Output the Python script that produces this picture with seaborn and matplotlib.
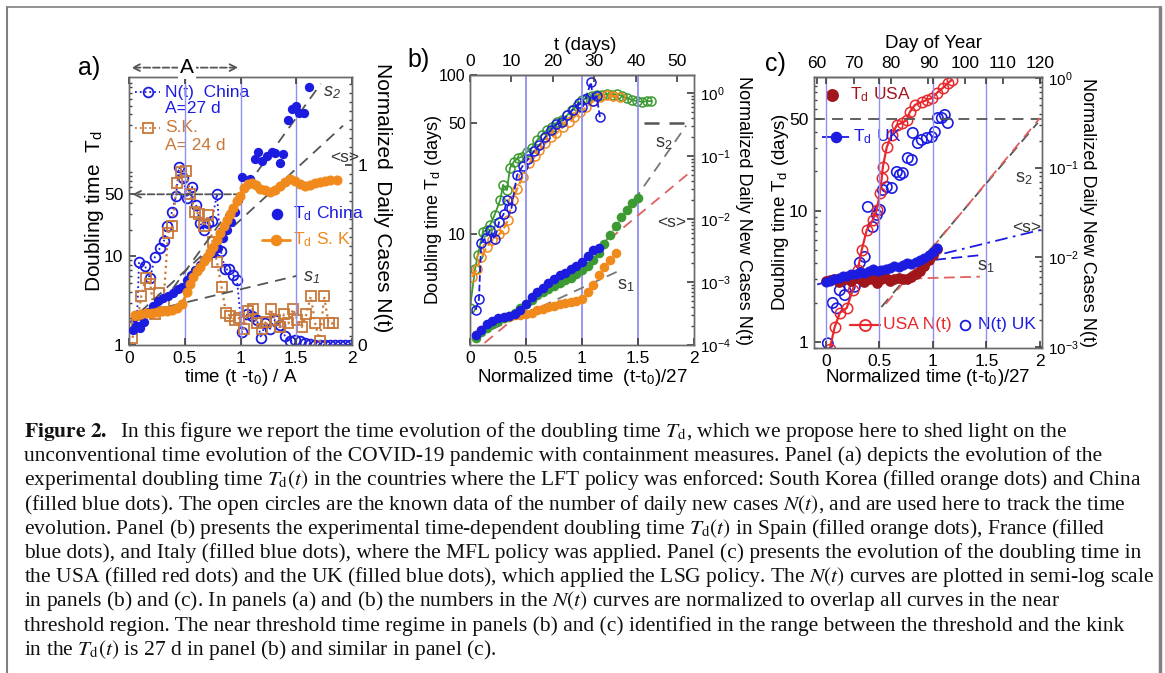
"""
Doubling time T_d of COVID-19 under three containment policies (panels a-c)
with the journal caption underneath.
"""

import math

import matplotlib
matplotlib.use("Agg")
import matplotlib.pyplot as plt
import matplotlib.ticker as mticker
import matplotlib.transforms as mtransforms
from matplotlib.lines import Line2D
import seaborn as sns

# ── Data: panel (a) LFT policy, China / South Korea ───────────────────
A_CHN_TD_T = [0.036, 0.063, 0.099, 0.135, 0.170, 0.215, 0.260, 0.305, 0.350, 0.395,
              0.439, 0.475, 0.520, 0.556, 0.592, 0.637, 0.673, 0.709, 0.753, 0.798,
              0.843, 0.879, 0.915, 0.951, 0.978, 1.013, 1.085, 1.130, 1.157, 1.193,
              1.238, 1.283, 1.309, 1.354, 1.381, 1.426, 1.462, 1.498, 1.525, 1.570, 1.614]
A_CHN_TD = [1.47, 1.63, 1.55, 1.81, 2.35, 2.74, 3.12, 3.37, 3.55, 3.84,
            4.26, 4.48, 5.38, 6.12, 6.96, 7.92, 9.02, 10.0, 10.8, 12.3,
            15.9, 19.6, 24.1, 31.2, 42.6, 79.2, 75.2, 126, 151, 120,
            136, 151, 147, 114, 144, 346, 460, 497, 415, 415, 813]

A_SK_TD_T = [0.054, 0.108, 0.161, 0.206, 0.251, 0.296, 0.341, 0.386, 0.430, 0.475,
             0.520, 0.547, 0.574, 0.610, 0.637, 0.673, 0.700, 0.726, 0.753, 0.789,
             0.816, 0.852, 0.879, 0.906, 0.933, 0.969, 0.996, 1.031, 1.067, 1.103,
             1.139, 1.175, 1.220, 1.265, 1.309, 1.354, 1.399, 1.444, 1.489, 1.534,
             1.578, 1.623, 1.668, 1.713, 1.758, 1.803, 1.865]
A_SK_TD = [2.17, 2.23, 2.29, 2.29, 2.35, 2.41, 2.41, 2.47, 2.60, 2.89,
           3.94, 4.85, 5.81, 6.78, 7.52, 8.79, 9.75, 11.1, 12.6, 15.1,
           18.1, 21.7, 25.4, 29.6, 34.6, 41.5, 48.4, 59.6, 66.1, 67.8,
           64.4, 58.1, 55.2, 52.4, 56.6, 62.8, 69.6, 75.2, 71.4, 66.1,
           62.8, 64.4, 67.8, 69.6, 71.4, 73.3, 73.3]

A_CHN_NT_T = [0.036, 0.072, 0.090, 0.143, 0.188, 0.233, 0.278, 0.314, 0.341, 0.386,
              0.422, 0.448, 0.484, 0.520, 0.565, 0.601, 0.637, 0.673, 0.709, 0.744,
              0.789, 0.825, 0.861, 0.897, 0.933, 0.969, 1.013, 1.058, 1.103, 1.148,
              1.184, 1.220, 1.265, 1.309, 1.354, 1.399, 1.444, 1.489, 1.534, 1.578,
              1.623, 1.670, 1.715, 1.760, 1.805, 1.850, 1.895, 1.940, 1.980]
A_CHN_NT = [0.11, 0.15, 0.46, 0.44, 0.37, 0.49, 0.54, 0.58, 0.66, 0.74,
            0.83, 0.99, 0.93, 0.82, 0.88, 0.78, 0.68, 0.64, 0.68, 0.69,
            0.84, 0.52, 0.42, 0.42, 0.39, 0.36, 0.07, 0.17, 0.16, 0.14,
            0.04, 0.12, 0.09, 0.14, 0.11, 0.05, 0.02, 0.03, 0.02, 0.01,
            0.005, 0.0, 0.0, 0.0, 0.0, 0.0, 0.0, 0.0, 0.0]

A_SK_NT_T = [0.03, 0.07, 0.11, 0.15, 0.19, 0.23, 0.27, 0.31, 0.35, 0.39,
             0.43, 0.47, 0.51, 0.55, 0.59, 0.63, 0.67, 0.71, 0.75, 0.79,
             0.83, 0.87, 0.91, 0.95, 0.99, 1.03, 1.07, 1.11, 1.15, 1.19,
             1.23, 1.27, 1.31, 1.35, 1.39, 1.43, 1.47, 1.51, 1.55, 1.59,
             1.63, 1.67, 1.71, 1.75, 1.79, 1.83]
A_SK_NT = [0.04, 0.11, 0.27, 0.37, 0.34, 0.17, 0.29, 0.24, 0.62, 0.66,
           0.90, 0.96, 0.97, 0.84, 0.74, 0.73, 0.66, 0.72, 0.57, 0.46,
           0.32, 0.18, 0.16, 0.14, 0.15, 0.09, 0.19, 0.20, 0.12, 0.09,
           0.13, 0.20, 0.14, 0.10, 0.17, 0.12, 0.20, 0.14, 0.10, 0.17,
           0.27, 0.12, 0.02, 0.27, 0.12, 0.12]

# guide lines (t, T_d) end points
A_S1 = ([0.05, 1.50], [2.2, 6.0])
A_SMEAN = ([0.10, 1.92], [2.35, 297])
A_S2 = ([0.20, 1.72], [2.0, 880])

# ── Data: panel (b) MFL policy, Spain / France / Italy ────────────────
B_ESP_TD_T = [0.05, 0.10, 0.15, 0.20, 0.25, 0.30, 0.35, 0.40, 0.45, 0.50, 0.55, 0.60, 0.65,
              0.70, 0.75, 0.80, 0.85, 0.90, 0.95, 1.00, 1.05, 1.10, 1.15, 1.20, 1.25, 1.30]
B_ESP_TD = [2.3, 2.5, 2.65, 2.8, 2.9, 2.95, 3.0, 3.1, 3.1, 3.15, 3.2, 3.3, 3.35,
            3.45, 3.5, 3.6, 3.65, 3.75, 3.8, 3.9, 4.3, 4.8, 5.5, 6.2, 6.9, 7.6]
B_FRA_TD_T = [0.05, 0.10, 0.15, 0.20, 0.25, 0.30, 0.35, 0.40, 0.45, 0.50, 0.55, 0.60,
              0.65, 0.70, 0.75, 0.80, 0.85, 0.90, 0.95, 1.00, 1.05, 1.10, 1.15]
B_FRA_TD = [2.3, 2.5, 2.7, 2.85, 2.95, 3.0, 3.05, 3.15, 3.3, 3.6, 4.0, 4.3,
            4.6, 4.9, 5.2, 5.5, 5.7, 6.0, 6.3, 6.7, 7.3, 7.9, 8.2]
B_ITA_TD_T = [0.05, 0.10, 0.15, 0.20, 0.25, 0.30, 0.35, 0.40, 0.45, 0.50, 0.55, 0.60,
              0.65, 0.70, 0.75, 0.80, 0.85, 0.90, 0.95, 1.00, 1.05, 1.10, 1.15, 1.20,
              1.25, 1.30, 1.35, 1.40, 1.45, 1.50]
B_ITA_TD = [2.2, 2.4, 2.55, 2.7, 2.85, 2.95, 3.05, 3.2, 3.4, 3.6, 3.85, 4.1,
            4.3, 4.5, 4.7, 4.9, 5.1, 5.3, 5.6, 5.9, 6.3, 6.9, 7.6, 8.6,
            9.8, 11.2, 12.7, 14.2, 15.6, 16.8]

B_ITA_NT_T = [0.0, 0.045, 0.07, 0.116, 0.15, 0.18, 0.22, 0.27, 0.295, 0.33,
              0.357, 0.39, 0.43, 0.46, 0.51, 0.55, 0.6, 0.64, 0.69, 0.73,
              0.78, 0.82, 0.87, 0.91, 0.955, 1.0, 1.045, 1.09, 1.13, 1.18,
              1.22, 1.27, 1.31, 1.36, 1.4, 1.45, 1.49, 1.54, 1.58, 1.62]
B_ITA_NT = [3.9e-4, 1.6e-3, 2.7e-3, 6.3e-3, 6.7e-3, 8.1e-3, 0.0117, 0.0202, 0.035, 0.029,
            0.065, 0.081, 0.094, 0.097, 0.117, 0.135, 0.18, 0.218, 0.262, 0.291,
            0.35, 0.377, 0.452, 0.544, 0.62, 0.78, 0.84, 0.9, 0.94, 0.94,
            0.97, 0.94, 0.97, 0.9, 0.84, 0.78, 0.75, 0.73, 0.75, 0.75]
B_FRA_NT_T = [0.05, 0.08, 0.1, 0.14, 0.18, 0.22, 0.26, 0.3, 0.33, 0.37,
              0.42, 0.47, 0.52, 0.57, 0.62, 0.67, 0.72, 0.77, 0.82, 0.87,
              0.92, 0.97, 1.0, 1.03, 1.08, 1.1, 1.13, 1.16]
B_FRA_NT = [3.6e-4, 5.3e-4, 4.2e-3, 5.0e-3, 6.7e-3, 4.8e-3, 0.009, 0.012, 0.02, 0.015,
            0.05, 0.07, 0.09, 0.12, 0.15, 0.2, 0.26, 0.32, 0.35, 0.45,
            0.55, 0.7, 0.6, 0.8, 1.5, 0.75, 0.9, 0.42]
B_ESP_NT_T = [0.02, 0.06, 0.1, 0.15, 0.2, 0.26, 0.3, 0.34, 0.38, 0.42,
              0.47, 0.53, 0.58, 0.62, 0.67, 0.72, 0.77, 0.83, 0.88, 0.93,
              0.98, 1.04, 1.1, 1.16, 1.22, 1.28, 1.34]
B_ESP_NT = [1.2e-3, 1.6e-3, 2.5e-3, 3.6e-3, 4.7e-3, 5.7e-3, 7e-3, 9.7e-3, 0.02, 0.03,
            0.047, 0.078, 0.1, 0.125, 0.16, 0.2, 0.23, 0.29, 0.35, 0.42,
            0.5, 0.6, 0.75, 0.87, 0.94, 0.9, 0.87]

B_S1 = ([0.05, 1.34], [2.25, 5.9])
B_SMEAN = ([0.13, 1.99], [2.06, 25.3])
B_S2 = ([1.00, 1.93], [5.5, 48])
B_LEVEL = ([1.55, 2.0], [50, 50])

# ── Data: panel (c) LSG policy, USA / UK ──────────────────────────────
C_TD_T = [0.0, 0.04, 0.08, 0.12, 0.16, 0.2, 0.24, 0.28, 0.32, 0.36, 0.4, 0.44, 0.48, 0.52,
          0.56, 0.6, 0.64, 0.68, 0.72, 0.76, 0.8, 0.84, 0.88, 0.92, 0.96, 1.0, 1.04]
C_USA_TD = [2.9, 2.95, 3.0, 2.85, 3.05, 3.0, 2.9, 3.1, 3.0, 2.85, 3.05, 3.0, 2.8, 3.0,
            3.1, 2.9, 3.05, 3.1, 3.0, 3.05, 3.15, 3.3, 3.5, 3.8, 4.2, 4.6, 5.1]
C_UK_TD = [2.85, 2.9, 3.0, 3.1, 3.2, 3.2, 3.3, 3.3, 3.4, 3.35, 3.5, 3.6, 3.45, 3.55,
           3.6, 3.7, 3.8, 3.75, 3.9, 4.0, 3.95, 4.1, 4.2, 4.4, 4.6, 4.9, 5.2]

C_USA_NT_T = [0.037, 0.084, 0.131, 0.196, 0.252, 0.299, 0.336, 0.383, 0.439, 0.477,
              0.505, 0.523, 0.533, 0.570, 0.617, 0.664, 0.710, 0.757, 0.785, 0.832,
              0.897, 0.944, 0.991, 1.037, 1.093, 1.140, 1.178]
C_USA_NT = [9.5e-4, 0.00168, 0.0024, 0.00273, 0.00433, 0.00724, 0.0121, 0.0202, 0.0261, 0.0338,
            0.0522, 0.0768, 0.102, 0.170, 0.232, 0.299, 0.315, 0.340, 0.418, 0.500,
            0.540, 0.569, 0.598, 0.681, 0.774, 0.880, 0.95]
C_UK_NT_T = [0.019, 0.065, 0.103, 0.131, 0.178, 0.224, 0.271, 0.318, 0.364, 0.393,
             0.439, 0.477, 0.505, 0.533, 0.570, 0.617, 0.664, 0.692, 0.720, 0.766,
             0.804, 0.813, 0.860, 0.897, 0.944, 0.991, 1.019, 1.047, 1.084, 1.112, 1.140]
C_UK_NT = [1.1e-3, 0.0031, 0.0027, 0.0043, 0.0038, 0.0047, 0.0047, 0.0087, 0.0101, 0.0365,
           0.0218, 0.0297, 0.0338, 0.0564, 0.0609, 0.0593, 0.0896, 0.083, 0.087, 0.128,
           0.122, 0.244, 0.188, 0.204, 0.214, 0.22, 0.25, 0.358, 0.358, 0.387, 0.315]

C_S2_BLACK = ([0.52, 1.98], [1.85, 47])
C_S2_RED = ([0.56, 2.00], [1.95, 51])
C_SMEAN = ([-0.08, 2.02], [2.75, 7.2])
C_S1_BLUE = ([0.72, 1.45], [4.0, 4.6])
C_S1_RED = ([0.80, 1.44], [3.05, 3.15])
C_LEVEL = ([-0.11, 2.02], [50, 50])

CAPTION = [
    r"$\mathbf{Figure\ 2.}$  In this figure we report the time evolution of the doubling time $T_\mathrm{d}$, which we propose here to shed light on the",
    "unconventional time evolution of the COVID-19 pandemic with containment measures. Panel (a) depicts the evolution of the",
    r"experimental doubling time $T_\mathrm{d}(t)$ in the countries where the LFT policy was enforced: South Korea (filled orange dots) and China",
    r"(filled blue dots). The open circles are the known data of the number of daily new cases $N(t)$, and are used here to track the time",
    r"evolution. Panel (b) presents the experimental time-dependent doubling time $T_\mathrm{d}(t)$ in Spain (filled orange dots), France (filled",
    "blue dots), and Italy (filled blue dots), where the MFL policy was applied. Panel (c) presents the evolution of the doubling time in",
    r"the USA (filled red dots) and the UK (filled blue dots), which applied the LSG policy. The $N(t)$ curves are plotted in semi-log scale",
    r"in panels (b) and (c). In panels (a) and (b) the numbers in the $N(t)$ curves are normalized to overlap all curves in the near",
    "threshold region. The near threshold time regime in panels (b) and (c) identified in the range between the threshold and the kink",
    r"in the $T_\mathrm{d}(t)$ is 27 d in panel (b) and similar in panel (c).",
]

# ── Theme ─────────────────────────────────────────────────────────────
W, H = 1165, 673
BLUE = "#1c1ce0"
ORANGE = "#f08a1c"
SK_BROWN = "#c8783a"
GREEN = "#3c9a32"
RED = "#e8282c"
DARK_RED = "#a0161a"
VLINE = "#9090f2"
GUIDE = "#555555"
GUIDE_RED = "#e06060"
TEXT = "#000000"
TICK_FS = 12.5
RTICK_FS = 11
LABEL_FS = 13.5
LEG_FS = 12.5

sns.set_theme(style="ticks")
plt.rcParams.update({
    "font.family": ["Liberation Sans", "DejaVu Sans"],
    "mathtext.fontset": "stix",
    "axes.edgecolor": "#6a6a6a",
    "axes.linewidth": 1.0,
    "text.color": TEXT,
    "xtick.color": "#444444",
    "ytick.color": "#444444",
    "xtick.labelcolor": TEXT,
    "ytick.labelcolor": TEXT,
})


def px_rect(left, top, right, bottom):
    """Axes rectangle in figure fraction from pixel edges."""
    return [left / W, 1 - bottom / H, (right - left) / W, (bottom - top) / H]


def style_ticks(ax, size=TICK_FS, **kw):
    ax.tick_params(which="both", direction="in", labelsize=size, pad=4, **kw)
    ax.tick_params(which="major", length=5)
    ax.tick_params(which="minor", length=2.5)


def pow10(v, _):
    return r"10$^{\mathregular{%d}}$" % int(round(math.log10(v)))


def legend_key(ax, x0, x1, y, color, text, tx, ls="-", lw=1.3, marker="o", ms=7, mfc=None):
    if ls != "none":
        ax.add_line(Line2D([x0, x1], [y, y], transform=ax.transAxes, color=color,
                           ls=ls, lw=lw, clip_on=False))
    ax.add_line(Line2D([(x0 + x1) / 2], [y], transform=ax.transAxes, ls="none", marker=marker,
                       ms=ms, mfc=mfc or color, mec=color, mew=1.3, clip_on=False))
    ax.text(tx, y, text, transform=ax.transAxes, color=color, ha="left", va="center",
            fontsize=LEG_FS)


def guide(ax, line, color=GUIDE, ls=(0, (6, 4)), lw=1.3):
    ax.plot(line[0], line[1], color=color, ls=ls, lw=lw, zorder=3)


fig = plt.figure(figsize=(W / 100, H / 100), dpi=100)
fig.patch.set_facecolor("white")

# ── Panel (a) ─────────────────────────────────────────────────────────
ax_a = fig.add_axes(px_rect(129, 77, 352, 345))
ax_a2 = ax_a.twinx()
ax_a.set_zorder(ax_a2.get_zorder() + 1)
ax_a.patch.set_visible(False)

ax_a.set_yscale("log")
ax_a.set_xlim(0, 2)
ax_a.set_ylim(1, 1050)
ax_a2.set_ylim(0, 1.49)
for v in (0.5, 1.0, 1.5):
    ax_a.axvline(v, color=VLINE, lw=1.0, zorder=0)

sns.lineplot(x=A_CHN_NT_T, y=A_CHN_NT, ax=ax_a2, color=BLUE, linestyle=":", linewidth=1.3,
             marker="o", markersize=7, markerfacecolor="none", markeredgecolor=BLUE,
             markeredgewidth=1.3, legend=False)
sns.lineplot(x=A_SK_NT_T, y=A_SK_NT, ax=ax_a2, color=SK_BROWN, linestyle=":", linewidth=1.6,
             marker="s", markersize=7, markerfacecolor="none", markeredgecolor=SK_BROWN,
             markeredgewidth=1.3, legend=False)

guide(ax_a, A_S1)
guide(ax_a, A_SMEAN)
guide(ax_a, A_S2)
sns.scatterplot(x=A_CHN_TD_T, y=A_CHN_TD, ax=ax_a, color=BLUE, s=45, linewidth=0, zorder=4)
sns.lineplot(x=A_SK_TD_T, y=A_SK_TD, ax=ax_a, color=ORANGE, linewidth=2.0, marker="o",
             markersize=6.5, markeredgecolor=ORANGE, legend=False, zorder=5)

ax_a.annotate("", xy=(0.03, 50), xytext=(1.0, 50),
              arrowprops=dict(arrowstyle="->", color=GUIDE, lw=1.3, linestyle="--",
                              shrinkA=0, shrinkB=0))
blend_a = mtransforms.blended_transform_factory(ax_a.transData, ax_a.transAxes)
ax_a.annotate("", xy=(0.02, 1.035), xytext=(0.98, 1.035), xycoords=blend_a, textcoords=blend_a,
              arrowprops=dict(arrowstyle="<->", color=GUIDE, lw=1.3, linestyle="--",
                              shrinkA=0, shrinkB=0), annotation_clip=False)
ax_a.text(0.52, 1.035, "A", transform=blend_a, ha="center", va="center", fontsize=15,
          bbox=dict(fc="white", ec="none", pad=1.5))

ax_a.set_yticks([1, 10, 50], labels=["1", "10", "50"])
ax_a.yaxis.set_minor_locator(mticker.LogLocator(base=10, subs=range(2, 10), numticks=20))
ax_a.yaxis.set_minor_formatter(mticker.NullFormatter())
ax_a.set_xticks([0, 0.5, 1, 1.5, 2], labels=["0", "0.5", "1", "1.5", "2"])
ax_a2.set_yticks([0, 1], labels=["0", "1"])
ax_a2.yaxis.set_minor_locator(mticker.MultipleLocator(0.05))
style_ticks(ax_a, top=True, right=False)
style_ticks(ax_a2)

ax_a.text(-0.155, 0.5, "Doubling time  T$_\\mathregular{d}$", transform=ax_a.transAxes,
          rotation=90, ha="center", va="center", fontsize=15)
ax_a.text(1.135, 0.55, "Normalized  Daily Cases N(t)", transform=ax_a.transAxes,
          rotation=270, ha="center", va="center", fontsize=15)
ax_a.text(0.5, -0.12, "time (t -t$_\\mathregular{0}$) / A", transform=ax_a.transAxes,
          ha="center", va="center", fontsize=LABEL_FS)

legend_key(ax_a2, 0.027, 0.139, 0.944, BLUE, "N(t)  China", 0.161, ls=":", mfc="none")
ax_a2.text(0.161, 0.884, "A=27 d", transform=ax_a2.transAxes, color=BLUE, va="center",
           fontsize=LEG_FS)
legend_key(ax_a2, 0.027, 0.139, 0.810, SK_BROWN, "S.K.", 0.161, ls=":", marker="s", mfc="none")
ax_a2.text(0.161, 0.746, "A= 24 d", transform=ax_a2.transAxes, color=SK_BROWN, va="center",
           fontsize=LEG_FS)
legend_key(ax_a2, 0.664, 0.664, 0.489, BLUE, "T$_\\mathregular{d}$ China", 0.735, ls="none")
legend_key(ax_a2, 0.596, 0.722, 0.392, ORANGE, "T$_\\mathregular{d}$ S. K.", 0.735, lw=2.0)

ax_a.text(0.870, 0.944, "s$_\\mathregular{2}$", transform=ax_a.transAxes, fontsize=13,
          style="italic", color="#333333", va="center")
ax_a.text(0.900, 0.698, "<s>", transform=ax_a.transAxes, fontsize=12.5, color="#333333",
          va="center")
ax_a.text(0.780, 0.250, "s$_\\mathregular{1}$", transform=ax_a.transAxes, fontsize=13,
          style="italic", color="#333333", va="center")

# ── Panel (b) ─────────────────────────────────────────────────────────
ax_b = fig.add_axes(px_rect(470, 75, 694, 345))
ax_b2 = ax_b.twinx()
ax_b.set_zorder(ax_b2.get_zorder() + 1)
ax_b.patch.set_visible(False)

ax_b.set_yscale("log")
ax_b2.set_yscale("log")
ax_b.set_xlim(0, 2)
ax_b.set_ylim(2.0, 100)
ax_b2.set_ylim(1e-4, 1.95)
for v in (0.5, 1.0, 1.5):
    ax_b.axvline(v, color=VLINE, lw=1.3, zorder=0)

sns.lineplot(x=B_ITA_NT_T, y=B_ITA_NT, ax=ax_b2, color=GREEN, linewidth=1.3, marker="o",
             markersize=6.5, markerfacecolor="none", markeredgecolor=GREEN,
             markeredgewidth=1.1, legend=False)
sns.lineplot(x=B_ESP_NT_T, y=B_ESP_NT, ax=ax_b2, color=ORANGE, linestyle="--", linewidth=1.6,
             marker="o", markersize=6.5, markerfacecolor="none", markeredgecolor=ORANGE,
             markeredgewidth=1.1, legend=False)
sns.lineplot(x=B_FRA_NT_T, y=B_FRA_NT, ax=ax_b2, color=BLUE, linestyle="--", linewidth=1.3,
             marker="o", markersize=6.5, markerfacecolor="none", markeredgecolor=BLUE,
             markeredgewidth=1.1, legend=False)

guide(ax_b, B_S1, color="#777777")
guide(ax_b, B_SMEAN, color=GUIDE_RED)
guide(ax_b, B_S2, color="#777777")
guide(ax_b, B_LEVEL, lw=1.8)
sns.scatterplot(x=B_ESP_TD_T, y=B_ESP_TD, ax=ax_b, color=ORANGE, s=48, linewidth=0, zorder=4)
sns.scatterplot(x=B_ITA_TD_T, y=B_ITA_TD, ax=ax_b, color=GREEN, s=48, linewidth=0, zorder=4)
sns.scatterplot(x=B_FRA_TD_T, y=B_FRA_TD, ax=ax_b, color=BLUE, s=48, linewidth=0, zorder=5)

ax_b.set_yticks([10, 50, 100], labels=["10", "50", "100"])
ax_b.yaxis.set_minor_locator(mticker.NullLocator())
ax_b.set_xticks([0, 0.5, 1, 1.5, 2], labels=["0", "0.5", "1", "1.5", "2"])
ax_b2.set_yticks([1e-4, 1e-3, 1e-2, 1e-1, 1])
ax_b2.yaxis.set_major_formatter(mticker.FuncFormatter(pow10))
ax_b2.yaxis.set_minor_locator(mticker.LogLocator(base=10, subs=range(2, 10), numticks=20))
ax_b2.yaxis.set_minor_formatter(mticker.NullFormatter())
style_ticks(ax_b, top=False, right=False)
ax_b.tick_params(axis="y", labelsize=11.5, pad=3)
style_ticks(ax_b2, size=RTICK_FS)

top_b = ax_b.secondary_xaxis("top", functions=(lambda x: x * 27, lambda d: d / 27))
top_b.set_xticks([0, 10, 20, 30, 40, 50])
style_ticks(top_b)
ax_b.text(0.513, 1.111, "t (days)", transform=ax_b.transAxes, ha="center", va="center",
          fontsize=LABEL_FS)
ax_b.text(-0.165, 0.5, "Doubling time T$_\\mathregular{d}$ (days)", transform=ax_b.transAxes,
          rotation=90, ha="center", va="center", fontsize=13)
ax_b.text(1.222, 0.5, "Normalized Daily New Cases N(t)", transform=ax_b.transAxes,
          rotation=270, ha="center", va="center", fontsize=13)
ax_b.text(0.5, -0.12, "Normalized time  (t-t$_\\mathregular{0}$)/27", transform=ax_b.transAxes,
          ha="center", va="center", fontsize=LABEL_FS)

ax_b.text(0.826, 0.748, "s$_\\mathregular{2}$", transform=ax_b.transAxes, fontsize=13,
          color="#333333", va="center")
ax_b.text(0.835, 0.452, "<s>", transform=ax_b.transAxes, fontsize=12.5, color="#333333",
          va="center")
ax_b.text(0.656, 0.222, "s$_\\mathregular{1}$", transform=ax_b.transAxes, fontsize=13,
          color="#333333", va="center")

# ── Panel (c) ─────────────────────────────────────────────────────────
ax_c = fig.add_axes(px_rect(814, 77, 1042, 348))
ax_c2 = ax_c.twinx()
ax_c.set_zorder(ax_c2.get_zorder() + 1)
ax_c.patch.set_visible(False)

ax_c.set_yscale("log")
ax_c2.set_yscale("log")
ax_c.set_xlim(-0.11, 2.02)
ax_c.set_ylim(0.9, 105)
ax_c2.set_ylim(0.975e-3, 1.026)
for v in (0.0, 0.5, 1.0, 1.5):
    ax_c.axvline(v, color=VLINE, lw=1.0, zorder=0)

sns.lineplot(x=C_USA_NT_T, y=C_USA_NT, ax=ax_c2, color=RED, linewidth=1.6, marker="o",
             markersize=7.5, markerfacecolor="none", markeredgecolor=RED,
             markeredgewidth=1.1, legend=False)
sns.scatterplot(x=C_UK_NT_T, y=C_UK_NT, ax=ax_c2, marker="o", s=55, facecolor="none",
                edgecolor=BLUE, linewidth=1.2)

guide(ax_c, C_LEVEL)
guide(ax_c, C_S2_BLACK)
guide(ax_c, C_S2_RED, color=GUIDE_RED)
guide(ax_c, C_SMEAN, color=BLUE, ls=(0, (7, 3, 1.5, 3)))
guide(ax_c, C_S1_BLUE, color=BLUE, ls=(0, (6, 3)))
guide(ax_c, C_S1_RED, color=GUIDE_RED, ls=(0, (6, 3)))
sns.scatterplot(x=C_TD_T, y=C_USA_TD, ax=ax_c, color=DARK_RED, s=60, linewidth=0, zorder=4)
sns.lineplot(x=C_TD_T, y=C_UK_TD, ax=ax_c, color=BLUE, linestyle=(0, (5, 2, 1, 2)),
             linewidth=1.3, marker="o", markersize=6.5, markeredgecolor=BLUE,
             legend=False, zorder=5)

ax_c.set_yticks([1, 10, 50], labels=["1", "10", "50"])
ax_c.yaxis.set_minor_locator(mticker.LogLocator(base=10, subs=range(2, 10), numticks=20))
ax_c.yaxis.set_minor_formatter(mticker.NullFormatter())
ax_c.set_xticks([0, 0.5, 1, 1.5, 2], labels=["0", "0.5", "1", "1.5", "2"])
ax_c2.set_yticks([1e-3, 1e-2, 1e-1, 1])
ax_c2.yaxis.set_major_formatter(mticker.FuncFormatter(pow10))
ax_c2.yaxis.set_minor_locator(mticker.LogLocator(base=10, subs=range(2, 10), numticks=20))
ax_c2.yaxis.set_minor_formatter(mticker.NullFormatter())
style_ticks(ax_c, top=True, right=False)
style_ticks(ax_c2, size=RTICK_FS)

top_c = ax_c.secondary_xaxis("top", functions=(lambda x: 62.42 + 28.79 * x,
                                               lambda d: (d - 62.42) / 28.79))
top_c.set_xticks([60, 70, 80, 90, 100, 110, 120])
style_ticks(top_c)
ax_c.text(0.522, 1.125, "Day of Year", transform=ax_c.transAxes, ha="center", va="center",
          fontsize=LABEL_FS)
ax_c.text(-0.149, 0.5, "Doubling time T$_\\mathregular{d}$ (days)", transform=ax_c.transAxes,
          rotation=90, ha="center", va="center", fontsize=LABEL_FS)
ax_c.text(1.2, 0.5, "Normalized Daily New Cases N(t)", transform=ax_c.transAxes,
          rotation=270, ha="center", va="center", fontsize=13)
ax_c.text(0.5, -0.11, "Normalized time (t-t$_\\mathregular{0}$)/27", transform=ax_c.transAxes,
          ha="center", va="center", fontsize=LABEL_FS)

legend_key(ax_c2, 0.079, 0.079, 0.934, DARK_RED, "T$_\\mathregular{d}$ USA", 0.158, ls="none",
           ms=8)
legend_key(ax_c2, 0.035, 0.158, 0.778, BLUE, "T$_\\mathregular{d}$ UK", 0.171,
           ls=(0, (5, 2, 1, 2)))
legend_key(ax_c2, 0.158, 0.289, 0.085, RED, "USA N(t)", 0.303, lw=1.6, mfc="none", ms=8)
legend_key(ax_c2, 0.662, 0.662, 0.085, BLUE, "N(t) UK", 0.719, ls="none", mfc="none", ms=7)

ax_c.text(0.882, 0.627, "s$_\\mathregular{2}$", transform=ax_c.transAxes, fontsize=13,
          color="#333333", va="center")
ax_c.text(0.868, 0.446, "<s>", transform=ax_c.transAxes, fontsize=12.5, color="#333333",
          va="center")
ax_c.text(0.715, 0.299, "s$_\\mathregular{1}$", transform=ax_c.transAxes, fontsize=13,
          color="#333333", va="center")

# panel letters
fig.text(89 / W, 1 - 68 / H, "a)", fontsize=18, ha="center", va="center")
fig.text(419 / W, 1 - 60 / H, "b)", fontsize=18, ha="center", va="center")
fig.text(775 / W, 1 - 64 / H, "c)", fontsize=18, ha="center", va="center")

# ── Caption ───────────────────────────────────────────────────────────
serif = ["Liberation Serif", "DejaVu Serif"]
renderer = fig.canvas.get_renderer()
probe = fig.text(0, 0, CAPTION[2], fontsize=14, family=serif)
cap_fs = 14 * 1119 / probe.get_window_extent(renderer=renderer).width
probe.remove()
for i, line in enumerate(CAPTION):
    fig.text(24 / W, 1 - (437 + 24.2 * i) / H, line, fontsize=cap_fs, family=serif,
             ha="left", va="baseline", color="#111111")

# page frame (left, top, right)
frame = dict(transform=fig.transFigure, color="#808080")
fig.add_artist(Line2D([6.5 / W, 6.5 / W], [0, 1 - 7 / H], lw=1.5, **frame))
fig.add_artist(Line2D([6.5 / W, 1160 / W], [1 - 7 / H, 1 - 7 / H], lw=1.2, **frame))
fig.add_artist(Line2D([1160 / W, 1160 / W], [0, 1 - 7 / H], lw=2.5, **frame))

fig.savefig("out.png", dpi=100, facecolor="white")
plt.close(fig)
